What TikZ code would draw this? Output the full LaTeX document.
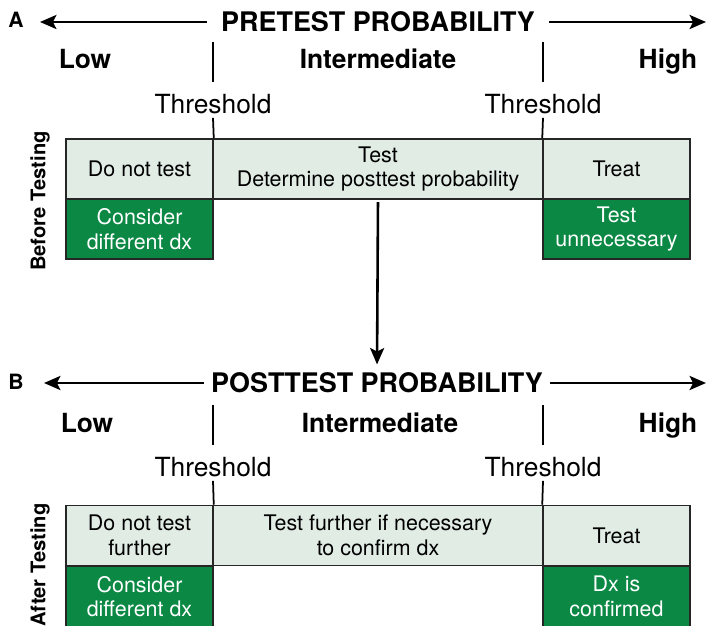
\documentclass[tikz,border=0pt]{standalone}
\usepackage{fontspec}
\setmainfont{TeX Gyre Heros}
\usetikzlibrary{arrows.meta,positioning}

\definecolor{cellpale}{RGB}{225,236,229}
\definecolor{cellgreen}{RGB}{10,136,68}

\tikzset{
  cell/.style={draw=black!85, line width=1.3pt, fill=cellpale, minimum height=1.8cm,
    inner sep=0pt, align=center, font=\fontsize{18.3}{21}\selectfont},
  sidecell/.style={cell, minimum width=4.41cm},
  greencell/.style={sidecell, fill=cellgreen, text=white},
  probtitle/.style={font=\fontsize{23}{26}\selectfont\bfseries, inner ysep=3pt},
  level/.style={font=\fontsize{22.5}{25}\selectfont\bfseries, anchor=base},
  thresh/.style={font=\fontsize{22.5}{25}\selectfont},
  panel/.style={font=\fontsize{18}{20}\selectfont\bfseries},
  phase/.style={font=\fontsize{17.2}{19}\selectfont\bfseries, rotate=90},
  axis/.style={line width=2.2pt, -{Stealth[length=14pt,width=12pt,inset=3pt]}},
  tick/.style={line width=1.5pt}
}

\begin{document}
\begin{tikzpicture}[x=0.03cm, y=-0.03cm]
  \useasboundingbox (0,0) rectangle (707,626);

  % --- A: before testing ---
  \node[panel] (lblA) at (16,20) {A};
  \node[probtitle, inner xsep=12pt] (ttlA) at (378,22) {PRETEST PROBABILITY};
  \coordinate (endAL) at (40,22);
  \coordinate (endAR) at (706,22);
  \draw[axis] (ttlA.west) -- (endAL);
  \draw[axis] (ttlA.east) -- (endAR);

  \node[level] (lowA) at (85,69) {Low};
  \node[level] (midA) at (378,69) {Intermediate};
  \node[level] (highA) at (668,69) {High};
  \draw[tick] (213,42) -- (213,82);
  \draw[tick] (543,42) -- (543,82);

  \node[thresh] (thA1) at (213,104) {Threshold};
  \node[thresh] (thA2) at (543,104) {Threshold};

  \node[cell, minimum width=9.9cm] (testA) at (378,169) {Test\\Determine posttest probability};
  \node[sidecell] (notA) at (139.5,169) {Do not test};
  \node[sidecell] (treatA) at (616.5,169) {Treat};
  \node[greencell] (dxA) at (139.5,229) {Consider\\different dx};
  \node[greencell] (unneedA) at (616.5,229) {Test\\unnecessary};
  \draw[tick] (thA1.south) -- (notA.north east);
  \draw[tick] (thA2.south) -- (treatA.north west);

  \node[phase] (phaseA) at (40,201) {Before Testing};

  % --- B: after testing ---
  \node[panel] (lblB) at (16,382) {B};
  \node[probtitle, inner xsep=6pt] (ttlB) at (377,383) {POSTTEST PROBABILITY};
  \coordinate (endBL) at (44,383);
  \coordinate (endBR) at (706,383);
  \draw[axis] (ttlB.west) -- (endBL);
  \draw[axis] (ttlB.east) -- (endBR);

  \node[level] (lowB) at (87,432) {Low};
  \node[level] (midB) at (380,432) {Intermediate};
  \node[level] (highB) at (668,432) {High};
  \draw[tick] (213,405) -- (213,445);
  \draw[tick] (543,405) -- (543,445);

  \node[thresh] (thB1) at (213,467) {Threshold};
  \node[thresh] (thB2) at (543,467) {Threshold};

  \node[cell, minimum width=9.9cm] (testB) at (378,535.5) {Test further if necessary\\to confirm dx};
  \node[sidecell] (notB) at (139.5,535.5) {Do not test\\further};
  \node[sidecell] (treatB) at (616.5,535.5) {Treat};
  \node[greencell] (dxB) at (139.5,596.5) {Consider\\different dx};
  \node[greencell] (sureB) at (616.5,596.5) {Dx is\\confirmed};
  \draw[tick] (thB1.south) -- (notB.north east);
  \draw[tick] (thB2.south) -- (treatB.north west);

  \node[phase] (phaseB) at (40,565) {After Testing};

  % from the test cell down to the posttest axis
  \draw[axis, shorten <=2pt, shorten >=4pt] (testA.south) -- (ttlB.north);
\end{tikzpicture}
\end{document}
